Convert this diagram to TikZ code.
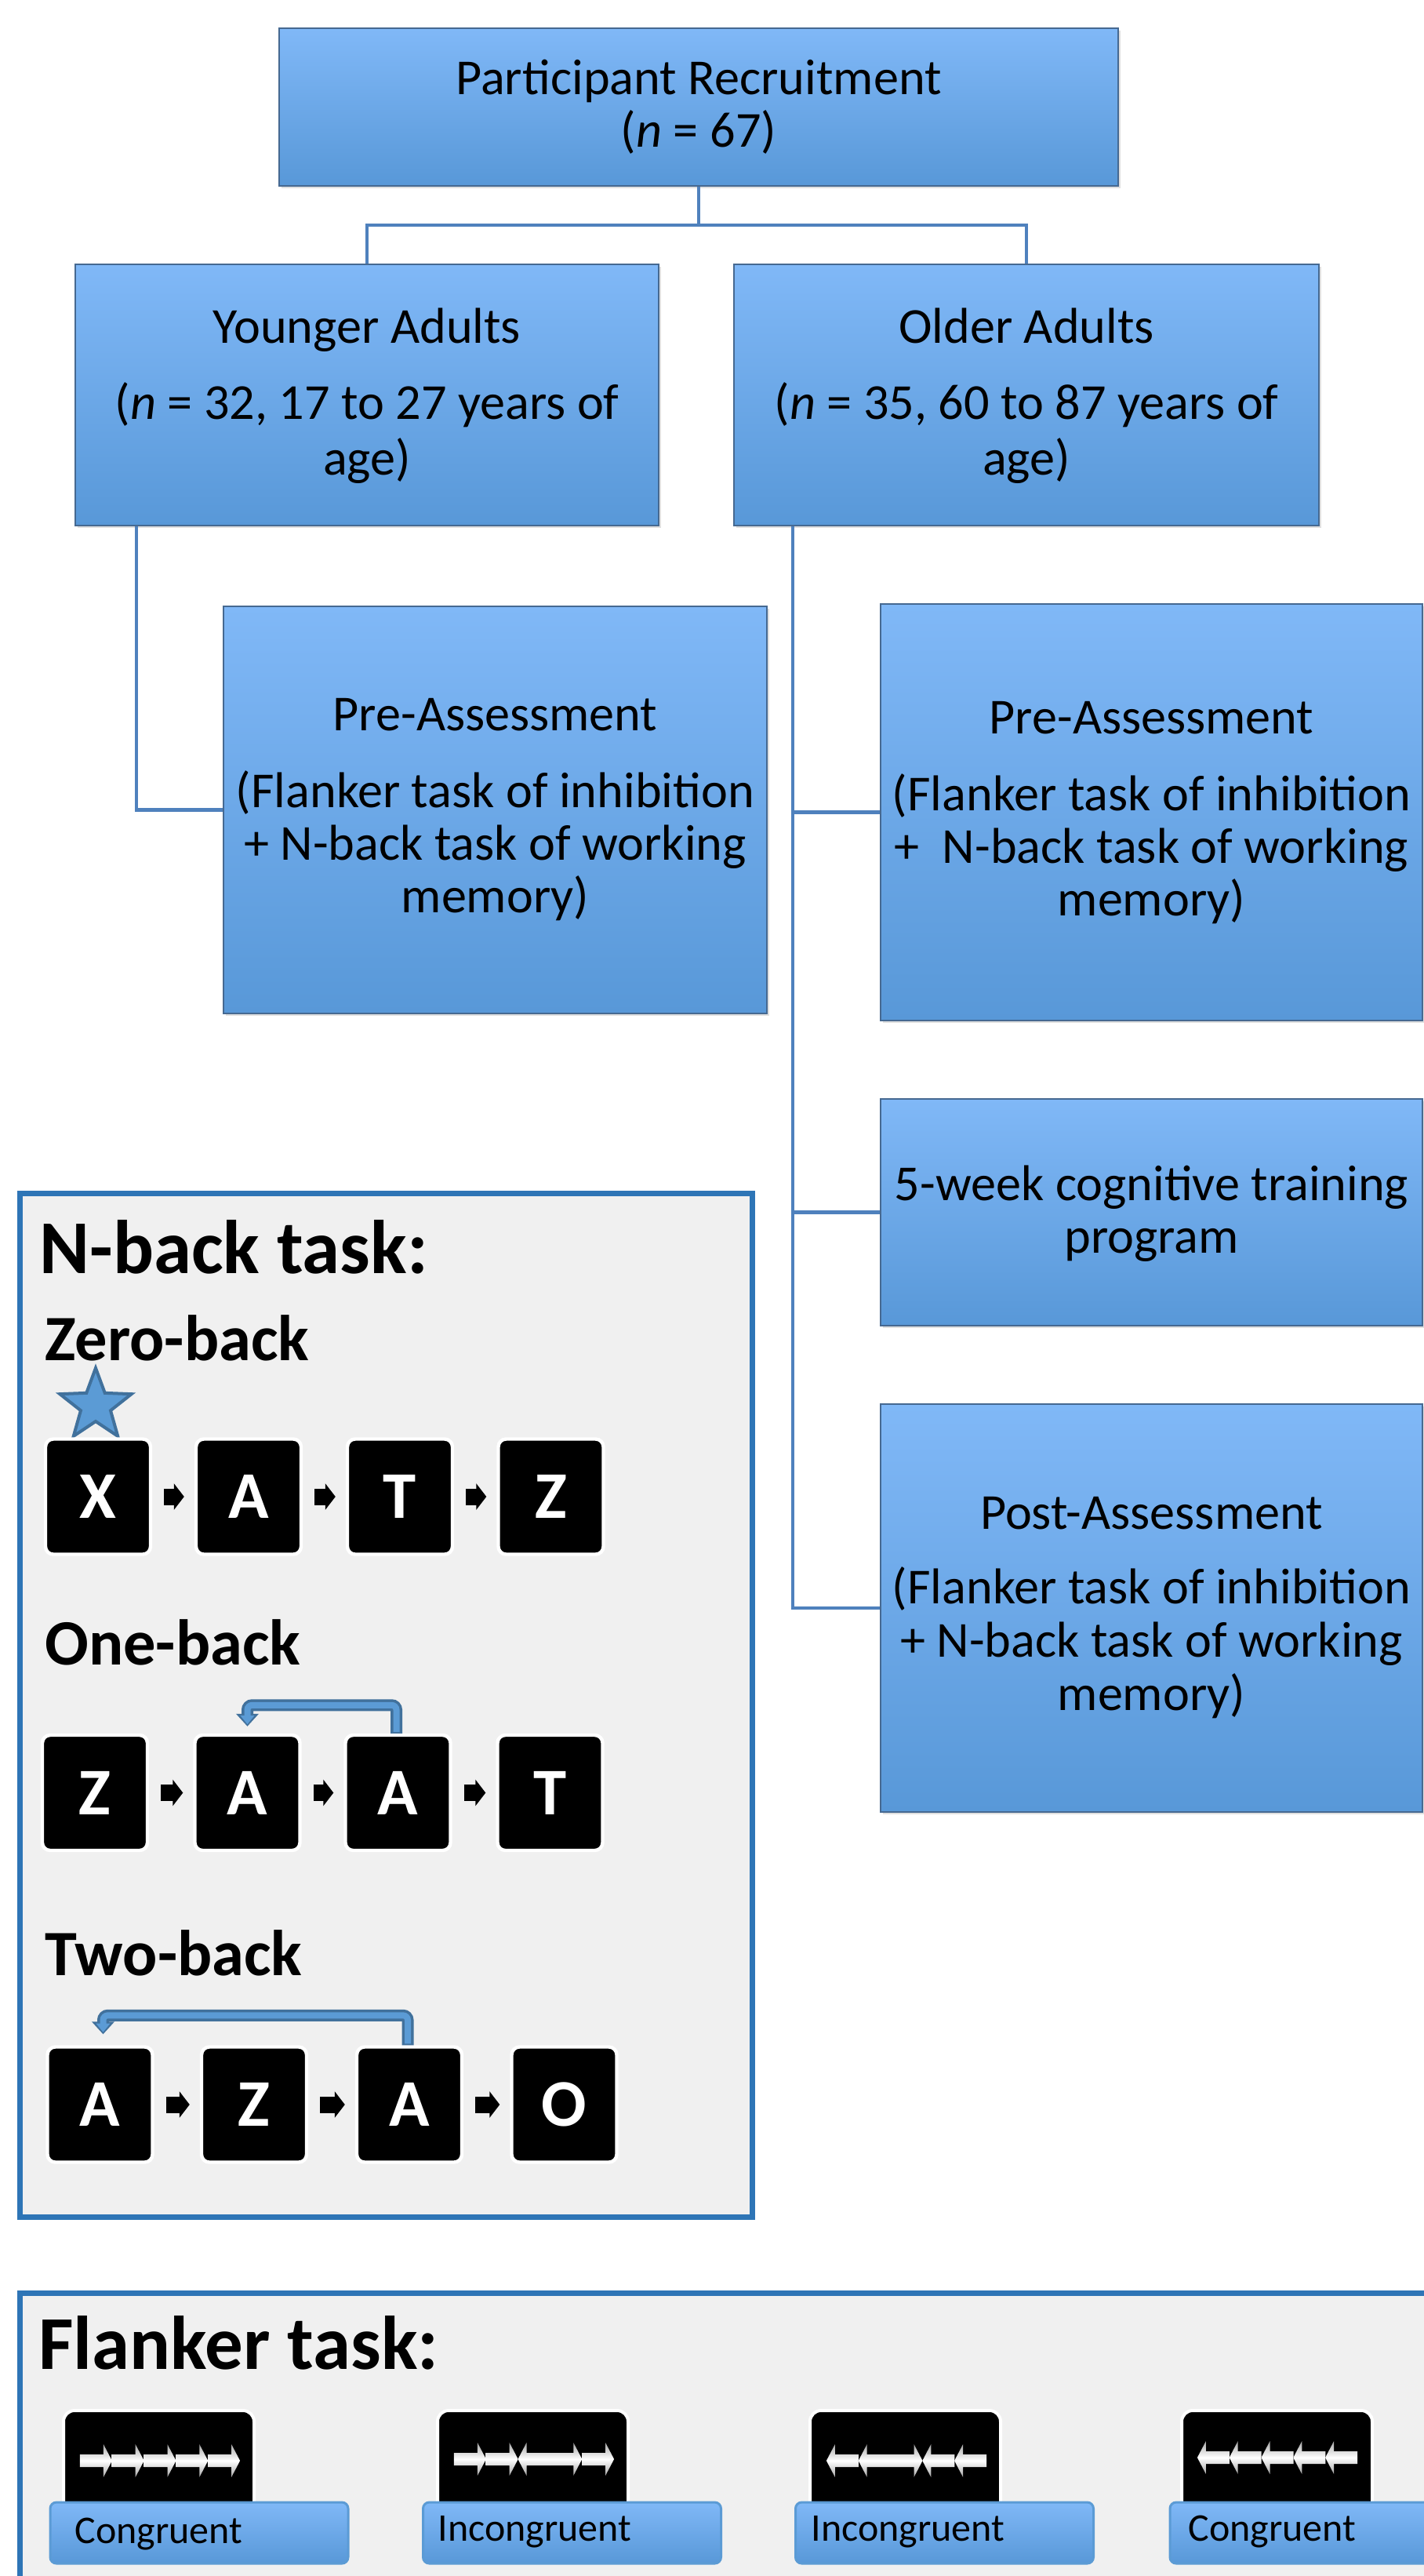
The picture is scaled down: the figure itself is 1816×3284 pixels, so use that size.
\documentclass[tikz,border=0pt]{standalone}
\usepackage{fontspec}
\setmainfont{Carlito}
\usetikzlibrary{shapes.geometric,arrows.meta,shadows}
\definecolor{boxtop}{RGB}{128,184,247}
\definecolor{boxbot}{RGB}{88,152,216}
\definecolor{boxline}{RGB}{70,105,145}
\definecolor{connblue}{RGB}{79,129,189}
\definecolor{panelline}{RGB}{46,117,182}
\definecolor{panelfill}{RGB}{240,240,240}
\definecolor{starfill}{RGB}{91,155,213}
\definecolor{starline}{RGB}{65,113,156}
\newcommand{\fsmain}{\fontsize{32.1pt}{34pt}\selectfont}
\newcommand{\fstitle}{\fontsize{48.5pt}{52pt}\selectfont\bfseries}
\newcommand{\fssub}{\fontsize{41.25pt}{44pt}\selectfont\bfseries}
\newcommand{\fscard}{\fontsize{42.5pt}{44pt}\selectfont\bfseries}
\newcommand{\fslabel}{\fontsize{25pt}{27pt}\selectfont}
\begin{document}
\begin{tikzpicture}[x=0.5pt,y=-0.5pt,
  flowbox/.style={rectangle, draw=boxline, line width=0.8pt, top color=boxtop, bottom color=boxbot, inner sep=0pt,
    drop shadow={opacity=0.25, shadow xshift=1.5pt, shadow yshift=-1.5pt}},
  txt/.style={anchor=base, inner sep=0pt, font=\fsmain},
  ttl/.style={anchor=base west, inner sep=0pt, font=\fstitle},
  subttl/.style={anchor=base west, inner sep=0pt, font=\fssub},
  connline/.style={draw=connblue, line width=2.4pt},
  panel/.style={rectangle, draw=panelline, fill=panelfill, line width=3.5pt, inner sep=0pt},
  card/.style={rectangle, rounded corners=5pt, fill=black, draw=white, line width=2.2pt, text=white, font=\fscard,
    minimum width=67pt, minimum height=73.5pt, inner sep=0pt},
  seqarrow/.style={draw=black, line width=10.5pt, -{Triangle[length=6.5pt,width=16.5pt]}, shorten <=7.5pt, shorten >=6.5pt},
  retout/.style={draw=starline, line width=7.5pt, rounded corners=3pt, -{Triangle[length=8pt,width=14pt]}},
  retin/.style={draw=starfill, line width=4pt, rounded corners=3pt, -{Triangle[length=5.5pt,width=8.5pt]}, shorten >=1.3pt, shorten <=1pt},
  fcard/.style={rectangle, rounded corners=7pt, fill=black, draw=white, line width=2pt, minimum width=121.5pt, minimum height=71pt, inner sep=0pt},
  flabel/.style={rectangle, rounded corners=4pt, top color=boxtop, bottom color=boxbot, draw=starfill, line width=1.5pt,
    minimum width=190pt, minimum height=39pt, inner sep=0pt},
  flabtxt/.style={anchor=base west, inner sep=0pt, font=\fslabel},
  fshade/.style={top color=gray!70, bottom color=gray!70, middle color=white}
]
\useasboundingbox (0,0) rectangle (1816,3284);
\fill[white] (0,0) rectangle (1816,3284);
\clip (0,0) rectangle (1816,3284);

% ---------- flow chart boxes ----------
\node[flowbox, minimum width=535pt, minimum height=100.5pt] (top) at (891,136.5) {};
\node[flowbox, minimum width=372pt, minimum height=166.5pt] (young) at (468,503.5) {};
\node[flowbox, minimum width=373pt, minimum height=166.5pt] (old) at (1309,503.5) {};
\node[flowbox, minimum width=346.5pt, minimum height=259.5pt] (preY) at (631.5,1032.5) {};
\node[flowbox, minimum width=345.5pt, minimum height=265.5pt] (preO) at (1468.5,1035.5) {};
\node[flowbox, minimum width=345.5pt, minimum height=144.5pt] (train) at (1468.5,1545.5) {};
\node[flowbox, minimum width=345.5pt, minimum height=260pt] (post) at (1468.5,2050) {};

% ---------- connectors ----------
\coordinate (jt) at (891,287);
\coordinate (yx) at (174,0);
\coordinate (ox) at (1011,0);
\draw[connline] (top.south) -- (jt);
\draw[connline] (young.north) |- (jt) -| (old.north);
\draw[connline] (young.south -| yx) |- (preY.west);
\draw[connline] (old.south -| ox) |- (post.west);
\draw[connline] (preO.west -| ox) -- (preO.west);
\draw[connline] (train.west -| ox) -- (train.west);

% ---------- box texts ----------
\node[txt] (topL1) at (891,120) {Participant Recruitment};
\node[txt] (topL2) at (891,187) {(\textit{n} = 67)};
\node[txt] (youngL1) at (468,437) {Younger Adults};
\node[txt] (youngL2) at (468,534) {(\textit{n} = 32, 17 to 27 years of};
\node[txt] (youngL3) at (468,605) {age)};
\node[txt] (oldL1) at (1309,437) {Older Adults};
\node[txt] (oldL2) at (1309,534) {(\textit{n} = 35, 60 to 87 years of};
\node[txt] (oldL3) at (1309,605) {age)};
\node[txt] (preYL1) at (631.5,931) {Pre-Assessment};
\node[txt] (preYL2) at (631.5,1029) {(Flanker task of inhibition};
\node[txt] (preYL3) at (631.5,1096) {+ N-back task of working};
\node[txt] (preYL4) at (631.5,1163) {memory)};
\node[txt] (preOL1) at (1468.5,935) {Pre-Assessment};
\node[txt] (preOL2) at (1468.5,1033) {(Flanker task of inhibition};
\node[txt] (preOL3) at (1468.5,1100) {+\ \ N-back task of working};
\node[txt] (preOL4) at (1468.5,1167) {memory)};
\node[txt] (trainL1) at (1468.5,1530) {5-week cognitive training};
\node[txt] (trainL2) at (1468.5,1597) {program};
\node[txt] (postL1) at (1468.5,1949) {Post-Assessment};
\node[txt] (postL2) at (1468.5,2044) {(Flanker task of inhibition};
\node[txt] (postL3) at (1468.5,2112) {+ N-back task of working};
\node[txt] (postL4) at (1468.5,2180) {memory)};

% ---------- N-back panel ----------
\node[panel, minimum width=467pt, minimum height=652.5pt] (nback) at (492,2173.5) {};
\node[ttl] (nbT) at (50,1623) {N-back task:};
\node[subttl] (zeroT) at (57,1734) {Zero-back};
\node[subttl] (oneT) at (57,2122) {One-back};
\node[subttl] (twoT) at (57,2518) {Two-back};

\node[star, star points=5, star point ratio=2.4, minimum size=48pt, inner sep=0pt,
      fill=starfill, draw=starline, line width=2pt] (star) at (122,1792) {};

\node[card] (z1) at (125,1908) {X};
\node[card] (z2) at (317,1908) {A};
\node[card] (z3) at (510,1908) {T};
\node[card] (z4) at (702.5,1908) {Z};
\draw[seqarrow] (z1.east) -- (z2.west);
\draw[seqarrow] (z2.east) -- (z3.west);
\draw[seqarrow] (z3.east) -- (z4.west);

\node[card] (o1) at (121,2285.5) {Z};
\node[card] (o2) at (315.5,2285.5) {A};
\node[card] (o3) at (507.5,2285.5) {A};
\node[card] (o4) at (701.5,2285.5) {T};
\draw[seqarrow] (o1.east) -- (o2.west);
\draw[seqarrow] (o2.east) -- (o3.west);
\draw[seqarrow] (o3.east) -- (o4.west);
\draw[retout] ([xshift=-1pt]o3.north) -- ++(0,-36) -| ([yshift=4.5pt]o2.north);
\draw[retin] ([xshift=-1pt]o3.north) -- ++(0,-36) -| ([yshift=4.5pt]o2.north);

\node[card] (t1) at (127.5,2683) {A};
\node[card] (t2) at (324,2683) {Z};
\node[card] (t3) at (522,2683) {A};
\node[card] (t4) at (719.5,2683) {O};
\draw[seqarrow] (t1.east) -- (t2.west);
\draw[seqarrow] (t2.east) -- (t3.west);
\draw[seqarrow] (t3.east) -- (t4.west);
\draw[retout] ([xshift=-1pt]t3.north) -- ++(0,-38) -| ([xshift=2pt,yshift=7pt]t1.north);
\draw[retin] ([xshift=-1pt]t3.north) -- ++(0,-38) -| ([xshift=2pt,yshift=7pt]t1.north);

% ---------- Flanker panel ----------
\draw[panel] (25,2923) rectangle (1870,3340);
\node[ttl] (flT) at (49,3020) {Flanker task:};

\node[fcard] (f1) at (202.5,3144) {};
\node[fcard] (f2) at (679.5,3144) {};
\node[fcard] (f3) at (1154.5,3144) {};
\node[fcard] (f4) at (1628.5,3144) {};

\foreach \d [count=\i] in {1,1,1,1,1}
  \fill[fshade, shift={(81+41.4+\i*40.8-40.8,3137)}, xscale=\d] (-20.5,-8) -- (9.5,-8) -- (9.5,-21) -- (20.5,0) -- (9.5,21) -- (9.5,8) -- (-20.5,8) -- cycle;
\foreach \d [count=\i] in {1,1,-1,1,1}
  \fill[fshade, shift={(558+41.4+\i*40.8-40.8,3135)}, xscale=\d] (-20.5,-8) -- (9.5,-8) -- (9.5,-21) -- (20.5,0) -- (9.5,21) -- (9.5,8) -- (-20.5,8) -- cycle;
\foreach \d [count=\i] in {-1,-1,1,-1,-1}
  \fill[fshade, shift={(1033+41.4+\i*40.8-40.8,3137)}, xscale=\d] (-20.5,-8) -- (9.5,-8) -- (9.5,-21) -- (20.5,0) -- (9.5,21) -- (9.5,8) -- (-20.5,8) -- cycle;
\foreach \d [count=\i] in {-1,-1,-1,-1,-1}
  \fill[fshade, shift={(1506+41.4+\i*40.8-40.8,3133)}, xscale=\d] (-20.5,-8) -- (9.5,-8) -- (9.5,-21) -- (20.5,0) -- (9.5,21) -- (9.5,8) -- (-20.5,8) -- cycle;

\node[flabel] (l1) at (254,3229) {};
\node[flabel] (l2) at (729.5,3229) {};
\node[flabel] (l3) at (1204.5,3229) {};
\node[flabel] (l4) at (1682,3229) {};
\node[flabtxt] (l1t) at (95,3242) {Congruent};
\node[flabtxt] (l2t) at (558,3239) {Incongruent};
\node[flabtxt] (l3t) at (1034,3239) {Incongruent};
\node[flabtxt] (l4t) at (1515,3239) {Congruent};
\end{tikzpicture}
\end{document}
